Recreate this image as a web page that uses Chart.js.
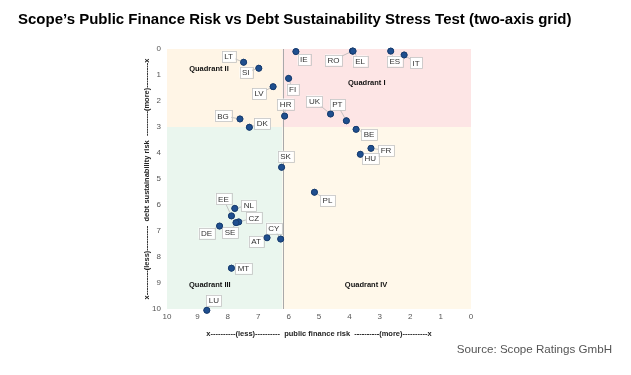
<!DOCTYPE html>
<html>
<head>
<meta charset="utf-8">
<script src="https://cdn.jsdelivr.net/npm/chart.js@4"></script>
<style>
  html, body { margin: 0; padding: 0; background: #fff; }
  #wrap { width: 631px; height: 375px; position: relative; }
</style>
</head>
<body>
<div id="wrap"><canvas id="chart" width="631" height="375"></canvas></div>
<script>
// Country codes and their scores (x: public finance risk, y: debt sustainability risk)
const countries = ['LT', 'SI', 'IE', 'RO', 'EL', 'ES', 'IT', 'FI', 'LV', 'HR', 'UK', 'PT', 'BE', 'BG',
                   'DK', 'FR', 'HU', 'SK', 'PL', 'EE', 'NL', 'CZ', 'SE', 'DE', 'AT', 'CY', 'MT', 'LU'];
const publicFinanceRisk = [7.48, 6.98, 5.76, 3.90, 3.88, 2.64, 2.20, 6.00, 6.51, 6.13, 4.62, 4.10, 3.78, 7.60,
                           7.29, 3.29, 3.64, 6.23, 5.15, 7.88, 7.77, 7.64, 7.73, 8.27, 6.71, 6.26, 7.88, 8.69];
const debtSustainabilityRisk = [0.51, 0.74, 0.10, 0.08, 0.08, 0.08, 0.23, 1.13, 1.45, 2.58, 2.50, 2.76, 3.09, 2.69,
                                3.01, 3.82, 4.05, 4.55, 5.51, 6.42, 6.13, 6.65, 6.68, 6.81, 7.26, 7.31, 8.43, 10.05];
const xTicks = [10, 9, 8, 7, 6, 5, 4, 3, 2, 1, 0];
const yTicks = [0, 1, 2, 3, 4, 5, 6, 7, 8, 9, 10];

// quadrant split values
const xSplit = 6.2;
const ySplit = 3;
const quadrantNames = ['Quadrant I', 'Quadrant II', 'Quadrant III', 'Quadrant IV'];
const quadrantLabelX = [3.43, 8.62, 8.59, 3.45];
const quadrantLabelY = [1.32, 0.77, 9.09, 9.08];

// label offsets from the dot, in pixels
const labelOffsets = {
    LT: [-15, -6], SI: [-13, 4], IE: [8, 8], RO: [-19, 9], EL: [7, 10], ES: [4, 10], IT: [12, 8],
    FI: [4, 11], LV: [-14, 7], HR: [1, -12], UK: [-16, -13], PT: [-9, -16], BE: [13, 5], BG: [-17, -3],
    DK: [13, -4], FR: [15, 2], HU: [10, 4], SK: [4, -11], PL: [13, 8], EE: [-8, -17], NL: [14, -3],
    CZ: [15, -4], SE: [-6, 10], DE: [-13, 7], AT: [-11, 4], CY: [-7, -11], MT: [12, 0], LU: [7, -10]
};

const points = countries.map((c, i) => ({ x: publicFinanceRisk[i], y: debtSustainabilityRisk[i], c: c }));

const backgroundPlugin = {
    id: 'quadrants',
    beforeDatasetsDraw(chart) {
        const { ctx, chartArea: a, scales: { x, y } } = chart;
        const sx = x.getPixelForValue(xSplit);
        const sy = y.getPixelForValue(ySplit);
        ctx.save();
        ctx.fillStyle = '#fff5e6'; ctx.fillRect(a.left, a.top, sx - a.left, sy - a.top);        // II
        ctx.fillStyle = '#fde5e5'; ctx.fillRect(sx, a.top, a.right - sx, sy - a.top);           // I
        ctx.fillStyle = '#eaf6ee'; ctx.fillRect(a.left, sy, sx - a.left, a.bottom - sy);        // III
        ctx.fillStyle = '#fff8ea'; ctx.fillRect(sx, sy, a.right - sx, a.bottom - sy);           // IV
        ctx.strokeStyle = '#a9a9a9';
        ctx.lineWidth = 1;
        ctx.beginPath();
        ctx.moveTo(Math.round(sx) + 0.5, a.top);
        ctx.lineTo(Math.round(sx) + 0.5, a.bottom);
        ctx.stroke();

        ctx.fillStyle = '#111';
        ctx.font = 'bold 7.5px "Liberation Sans", Arial, sans-serif';
        ctx.textAlign = 'center';
        ctx.textBaseline = 'middle';
        quadrantNames.forEach((q, i) => {
            ctx.fillText(q, x.getPixelForValue(quadrantLabelX[i]), y.getPixelForValue(quadrantLabelY[i]));
        });
        ctx.restore();
    },
    afterDatasetsDraw(chart) {
        const { ctx } = chart;
        const meta = chart.getDatasetMeta(0);
        ctx.save();
        ctx.font = '8px "Liberation Sans", Arial, sans-serif';
        ctx.textAlign = 'center';
        ctx.textBaseline = 'middle';
        meta.data.forEach((el, i) => {
            const code = countries[i];
            const off = labelOffsets[code] || [8, 8];
            const lx = el.x + off[0];
            const ly = el.y + off[1];
            const w = ctx.measureText(code).width + 5;
            const h = 11;
            ctx.strokeStyle = '#b5b5b5';
            ctx.lineWidth = 0.8;
            ctx.beginPath();
            ctx.moveTo(el.x, el.y);
            ctx.lineTo(lx, ly);
            ctx.stroke();
            ctx.fillStyle = '#ffffff';
            ctx.fillRect(lx - w / 2, ly - h / 2, w, h);
            ctx.strokeStyle = '#c4c4c4';
            ctx.strokeRect(Math.round(lx - w / 2) + 0.5, Math.round(ly - h / 2) + 0.5, Math.round(w), h);
            ctx.fillStyle = '#333';
            ctx.fillText(code, lx, ly + 0.5);
        });
        // redraw dots on top of the leader lines
        meta.data.forEach(el => el.draw(ctx));
        ctx.restore();
    },
    afterDraw(chart) {
        const { ctx } = chart;
        ctx.save();
        ctx.fillStyle = '#000';
        ctx.font = 'bold 15px "Liberation Sans", Arial, sans-serif';
        ctx.textAlign = 'left';
        ctx.textBaseline = 'middle';
        ctx.fillText('Scope\u2019s Public Finance Risk vs Debt Sustainability Stress Test (two-axis grid)', 18, 20);
        ctx.fillStyle = '#555';
        ctx.font = '11.6px "Liberation Sans", Arial, sans-serif';
        ctx.textAlign = 'right';
        ctx.fillText('Source: Scope Ratings GmbH', 612, 350);
        ctx.restore();
    }
};

new Chart(document.getElementById('chart'), {
    type: 'scatter',
    data: {
        datasets: [{
            label: 'Countries',
            data: points,
            backgroundColor: '#1f4f8f',
            borderColor: '#163a6b',
            borderWidth: 0.8,
            pointRadius: 3,
            clip: false
        }]
    },
    options: {
        responsive: false,
        animation: false,
        events: [],
        layout: { padding: { left: 142, right: 160, top: 49, bottom: 37 } },
        plugins: { legend: { display: false }, tooltip: { enabled: false } },
        scales: {
            x: {
                type: 'linear',
                reverse: true,
                min: 0,
                max: 10,
                afterBuildTicks: s => { s.ticks = xTicks.map(v => ({ value: v })); },
                afterFit: s => { s.height = 29; },
                grid: { display: false, drawTicks: false },
                border: { display: false },
                ticks: { color: '#555', font: { size: 8, family: '"Liberation Sans", Arial' }, padding: 3, maxRotation: 0 },
                title: {
                    display: true,
                    text: 'x----------(less)----------  public finance risk  ----------(more)----------x',
                    color: '#222',
                    font: { size: 7.5, weight: 'bold', family: '"Liberation Sans", Arial' },
                    padding: { top: 2, bottom: 0 }
                }
            },
            y: {
                type: 'linear',
                reverse: true,
                min: 0,
                max: 10,
                afterBuildTicks: s => { s.ticks = yTicks.map(v => ({ value: v })); },
                afterFit: s => { s.width = 25; },
                grid: { display: false, drawTicks: false },
                border: { display: false },
                ticks: { color: '#555', font: { size: 8, family: '"Liberation Sans", Arial' }, padding: 6 },
                title: {
                    display: true,
                    text: 'x----------(less)----------  debt sustainability risk  ----------(more)----------x',
                    color: '#222',
                    font: { size: 7.5, weight: 'bold', family: '"Liberation Sans", Arial' },
                    padding: { top: 0, bottom: 0 }
                }
            }
        }
    },
    plugins: [backgroundPlugin]
});
</script>
</body>
</html>
